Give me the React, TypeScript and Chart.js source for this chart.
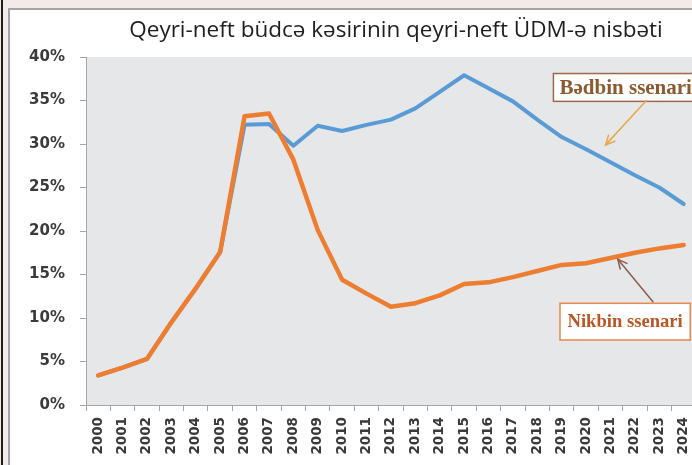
import React, { useEffect, useRef } from "react";
import { Chart, registerables } from "chart.js";

Chart.register(...registerables);

const TITLE = "Qeyri-neft büdcə kəsirinin qeyri-neft ÜDM-ə nisbəti";
const YEARS = [
  "2000", "2001", "2002", "2003", "2004", "2005", "2006", "2007", "2008", "2009",
  "2010", "2011", "2012", "2013", "2014", "2015", "2016", "2017", "2018", "2019",
  "2020", "2021", "2022", "2023", "2024",
];
const NIKBIN_LABEL = "Nikbin ssenari";
const BEDBIN_LABEL = "Bədbin ssenari";
const NIKBIN = [
  3.4, 4.3, 5.3, 9.5, 13.4, 17.6, 33.2, 33.5, 28.2, 20.1,
  14.4, 12.8, 11.3, 11.7, 12.6, 13.9, 14.1, 14.7, 15.4, 16.1,
  16.3, 16.9, 17.5, 18.0, 18.4,
];
const BEDBIN = [
  3.4, 4.3, 5.3, 9.5, 13.4, 17.6, 32.2, 32.3, 29.8, 32.1,
  31.5, 32.2, 32.8, 34.1, 36.0, 37.9, 36.4, 34.9, 32.8, 30.8,
  29.4, 27.9, 26.4, 25.0, 23.1,
];
const Y_MIN = 0;
const Y_MAX = 40;
const Y_STEP = 5;

function drawArrow(ctx: CanvasRenderingContext2D, x1: number, y1: number, x2: number, y2: number, color: string) {
  ctx.save();
  ctx.strokeStyle = color;
  ctx.lineWidth = 1.5;
  ctx.lineCap = "round";
  ctx.beginPath();
  ctx.moveTo(x1, y1);
  ctx.lineTo(x2, y2);
  ctx.stroke();
  const ang = Math.atan2(y2 - y1, x2 - x1);
  const len = 10;
  const spread = 0.45;
  ctx.beginPath();
  ctx.moveTo(x2 - len * Math.cos(ang - spread), y2 - len * Math.sin(ang - spread));
  ctx.lineTo(x2, y2);
  ctx.lineTo(x2 - len * Math.cos(ang + spread), y2 - len * Math.sin(ang + spread));
  ctx.stroke();
  ctx.restore();
}

const decorPlugin = {
  id: "decor",
  beforeDraw(chart: any) {
    const { ctx, chartArea } = chart;
    ctx.save();
    ctx.fillStyle = "#e6e7e8";
    ctx.fillRect(chartArea.left, chartArea.top, chartArea.right - chartArea.left, chartArea.bottom - chartArea.top);
    ctx.restore();
  },
  afterDraw(chart: any) {
    const { ctx } = chart;
    const xs = chart.scales.x;
    const ys = chart.scales.y;
    const X = (i: number) => xs.getPixelForValue(i);
    const Y = (v: number) => ys.getPixelForValue(v);

    // title
    ctx.save();
    ctx.fillStyle = "#1e1e1e";
    ctx.font = "22.5px 'Open Sans'";
    ctx.textAlign = "center";
    ctx.textBaseline = "middle";
    ctx.fillText(TITLE, 396, 31);
    ctx.restore();

    // Bədbin annotation
    ctx.save();
    const bl = X(18.66), bt = Y(38.1), bb = Y(34.9), br = X(24.9);
    ctx.fillStyle = "#ffffff";
    ctx.fillRect(bl, bt, br - bl, bb - bt);
    ctx.strokeStyle = "#a0664a";
    ctx.lineWidth = 1.5;
    ctx.strokeRect(bl, bt, br - bl, bb - bt);
    ctx.fillStyle = "#8c5a2e";
    ctx.font = "bold 21px 'Liberation Serif'";
    ctx.textAlign = "left";
    ctx.textBaseline = "middle";
    ctx.fillText(BEDBIN_LABEL, X(18.91), Y(36.5) + 1);
    ctx.restore();
    drawArrow(ctx, X(22.47), Y(35.0), X(20.8), Y(29.9), "#eaa74a");

    // Nikbin annotation
    ctx.save();
    const nl = X(18.93), nt = Y(11.69), nb = Y(7.47), nr = X(24.27);
    ctx.fillStyle = "#ffffff";
    ctx.fillRect(nl, nt, nr - nl, nb - nt);
    ctx.strokeStyle = "#e8884a";
    ctx.lineWidth = 1.5;
    ctx.strokeRect(nl, nt, nr - nl, nb - nt);
    ctx.fillStyle = "#bb5523";
    ctx.font = "bold 18.6px 'Liberation Serif'";
    ctx.textAlign = "center";
    ctx.textBaseline = "middle";
    ctx.fillText(NIKBIN_LABEL, (nl + nr) / 2, (nt + nb) / 2 + 1);
    ctx.restore();
    drawArrow(ctx, X(22.74), Y(11.87), X(21.3), Y(16.75), "#8e5b52");
  },
};

export default function App() {
  const ref = useRef<HTMLCanvasElement | null>(null);
  useEffect(() => {
    if (!ref.current) return;
    const chart = new Chart(ref.current, {
      type: "line",
      data: {
        labels: YEARS,
        datasets: [
          {
            label: NIKBIN_LABEL,
            data: NIKBIN,
            borderColor: "#ed7d31",
            backgroundColor: "#ed7d31",
            borderWidth: 4.5,
            pointRadius: 0,
            tension: 0,
            borderJoinStyle: "round",
            borderCapStyle: "round",
          },
          {
            label: BEDBIN_LABEL,
            data: BEDBIN,
            borderColor: "#5b9bd5",
            backgroundColor: "#5b9bd5",
            borderWidth: 4,
            pointRadius: 0,
            tension: 0,
            borderJoinStyle: "round",
            borderCapStyle: "round",
          },
        ],
      },
      options: {
        responsive: false,
        animation: false,
        devicePixelRatio: 1,
        layout: { padding: { top: 57, right: 6, left: 0, bottom: 0 } },
        plugins: {
          legend: { display: false },
          title: { display: false },
          tooltip: { enabled: false },
        },
        scales: {
          x: {
            offset: true,
            grid: { display: true, offset: true, drawOnChartArea: false, drawTicks: true, tickLength: 6, color: "#a6a6a6" },
            border: { display: true, color: "#a6a6a6", width: 1 },
            ticks: {
              autoSkip: false,
              minRotation: 90,
              maxRotation: 90,
              padding: 6,
              color: "#3a3a3a",
              font: { family: "'DejaVu Sans'", size: 13.5, weight: "bold" },
            },
            afterFit: (s: any) => { s.height = 60; },
          },
          y: {
            min: Y_MIN,
            max: Y_MAX,
            grid: { display: true, drawOnChartArea: false, drawTicks: true, tickLength: 6, color: "#a6a6a6" },
            border: { display: true, color: "#a6a6a6", width: 1 },
            ticks: {
              stepSize: Y_STEP,
              padding: 15,
              color: "#3a3a3a",
              font: { family: "'DejaVu Sans'", size: 15, weight: "bold" },
              callback: (v: any) => v + "%",
            },
            afterFit: (s: any) => { s.width = 86; },
          },
        },
      },
      plugins: [decorPlugin],
    });
    return () => chart.destroy();
  }, []);

  return (
    <div style={{ position: "fixed", left: 0, top: 0, width: 692, height: 465, overflow: "hidden", background: "#f4ebe9" }}>
      <div style={{ position: "absolute", left: 1, top: 0, width: 2, height: 465, background: "#1c1c1c" }} />
      <div style={{ position: "absolute", left: 8, top: 8, width: 700, height: 470, background: "#ffffff", borderLeft: "2px solid #a3a3a3", borderTop: "2px solid #a3a3a3" }} />
      <canvas ref={ref} width={706} height={465} style={{ position: "absolute", left: 0, top: 0, width: 706, height: 465 }} />
    </div>
  );
}
